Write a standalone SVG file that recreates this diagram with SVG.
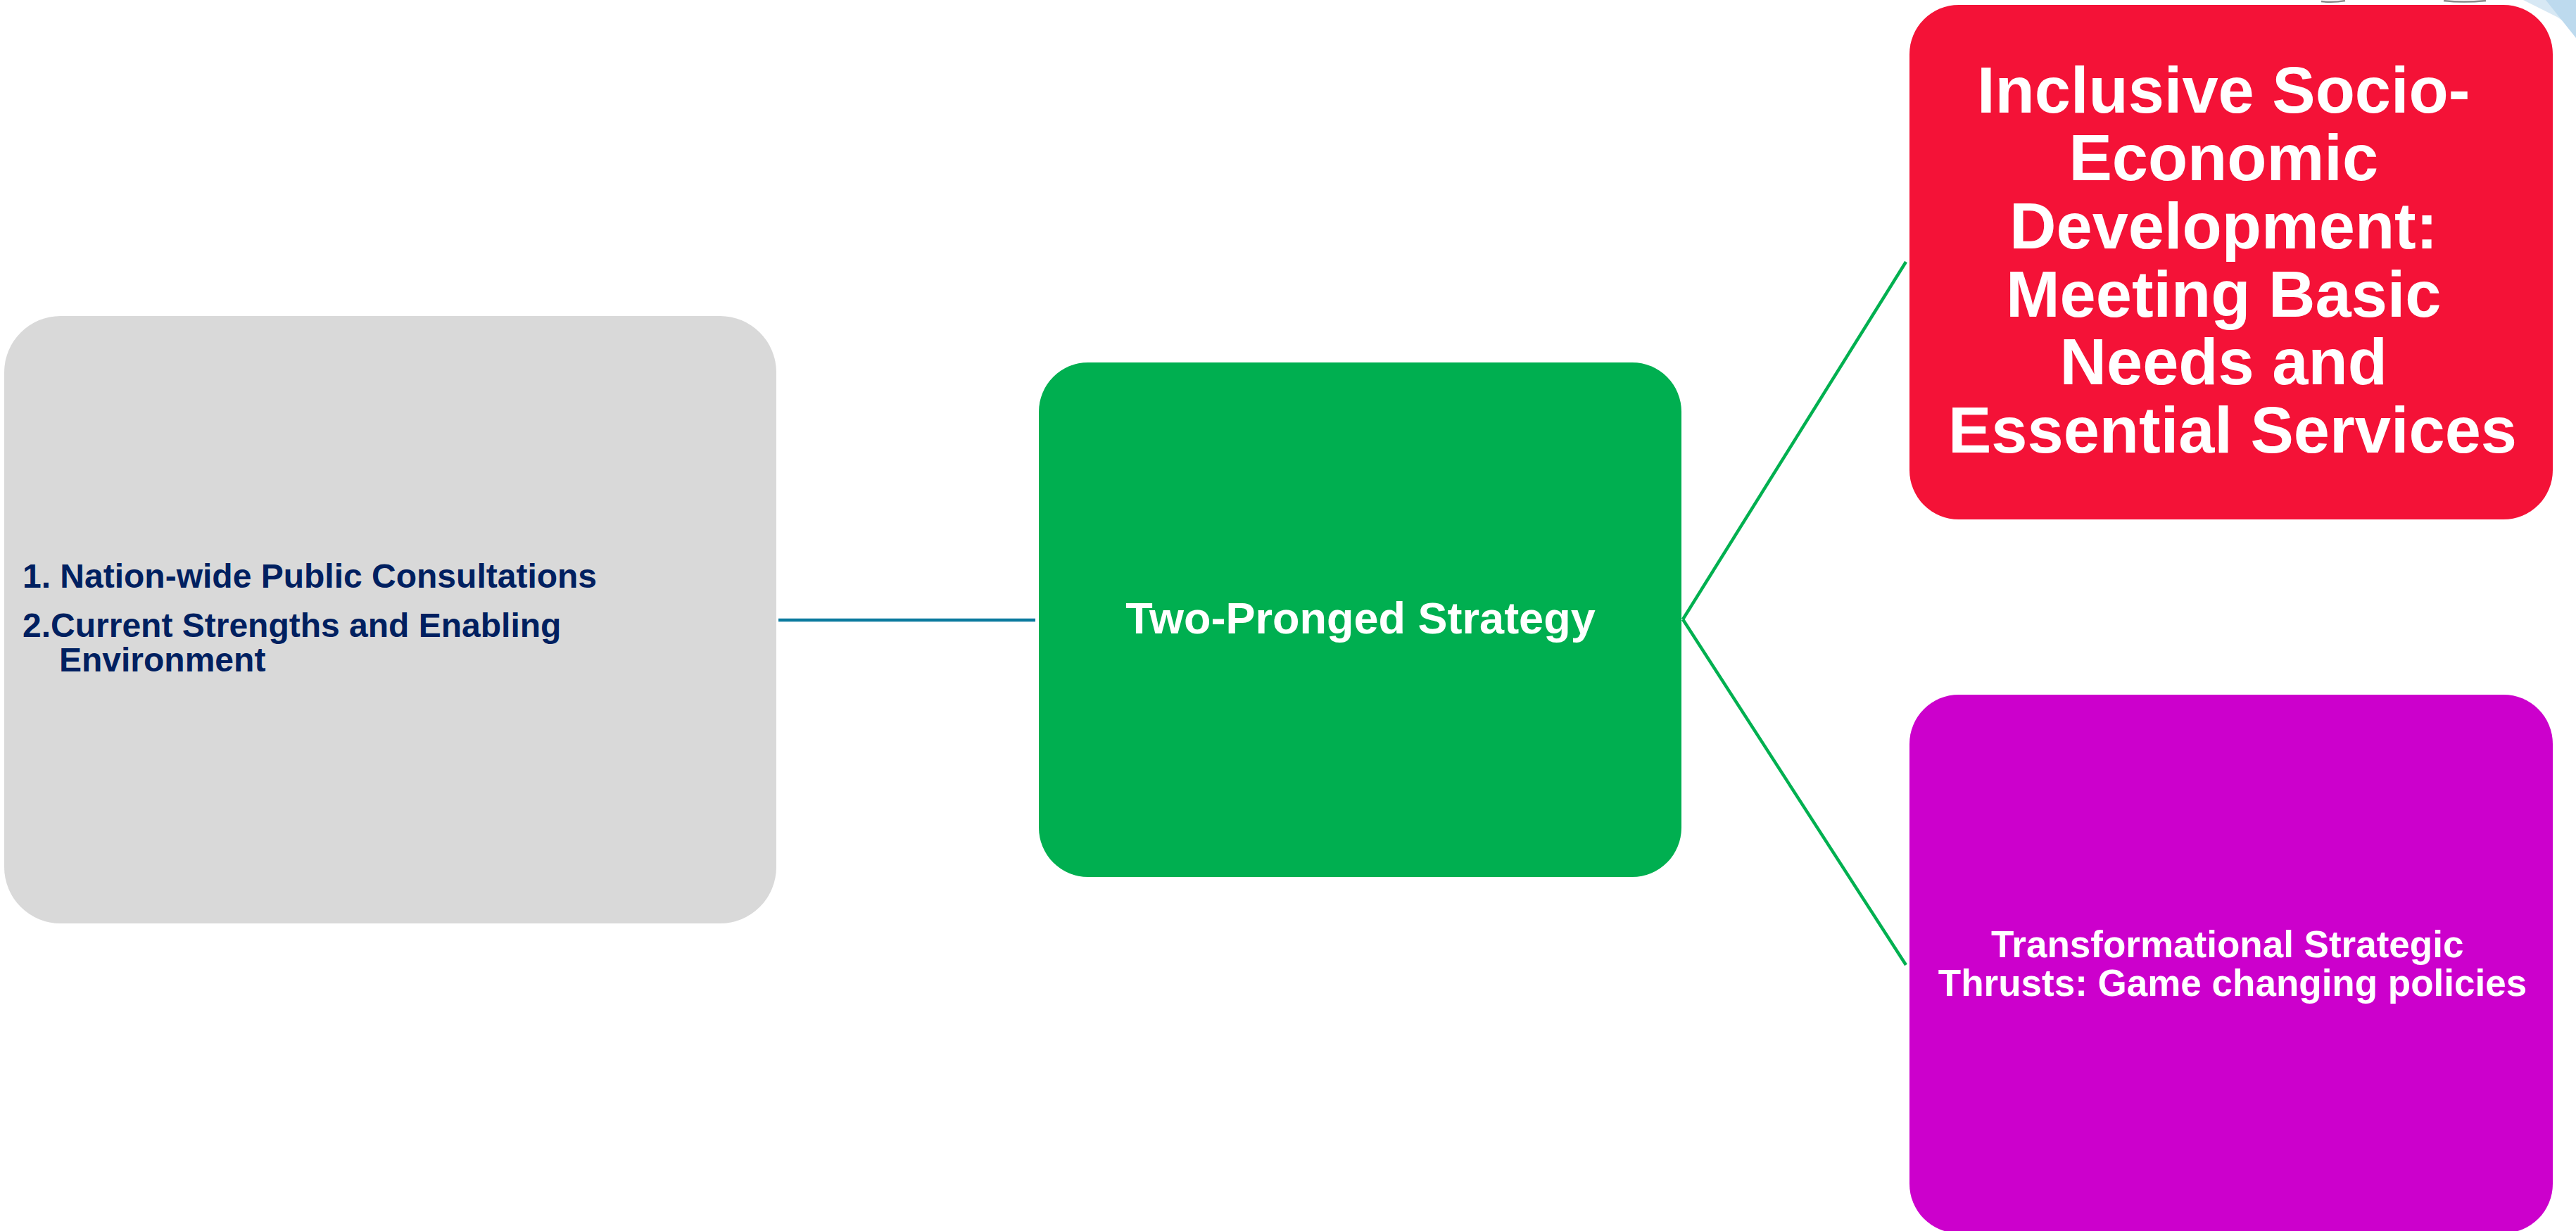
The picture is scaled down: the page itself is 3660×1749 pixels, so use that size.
<svg xmlns="http://www.w3.org/2000/svg" width="3660" height="1749" viewBox="0 0 3660 1749">
  <style>
    .lbl { font-family: "Liberation Sans", Arial, sans-serif; font-weight: bold; }
    .navy { fill: #002060; }
    .white { fill: #FFFFFF; }
    .mid { text-anchor: middle; }
    .link { fill: none; stroke-width: 4.5; stroke-linecap: butt; }
  </style>

  <rect x="0" y="0" width="3660" height="1749" fill="#FFFFFF"/>

  <!-- corner ornament at the top right -->
  <g id="ornament">
    <polygon points="3585,0 3660,0 3660,42 3633,24" fill="#D7E8F4"/>
    <polygon points="3617,0 3660,0 3660,54" fill="#BDDAEE"/>
    <path d="M3298,2 Q3315,4 3332,1" fill="none" stroke="#8A8A8A" stroke-width="2.5"/>
    <path d="M3472,1 Q3500,4 3532,1" fill="none" stroke="#8A8A8A" stroke-width="2.5"/>
  </g>

  <!-- connectors -->
  <g id="connectors">
    <line class="link" x1="1106" y1="881" x2="1471" y2="881" stroke="#0B7A9E"/>
    <line class="link" x1="2391" y1="880" x2="2708" y2="372" stroke="#00B050"/>
    <line class="link" x1="2391" y1="880" x2="2708" y2="1371" stroke="#00B050"/>
  </g>

  <!-- inputs -->
  <g id="node-inputs">
    <rect x="6" y="449" width="1097" height="863" rx="80" ry="80" fill="#D9D9D9"/>
    <text class="lbl navy" font-size="48" x="32" y="835">1. Nation-wide Public Consultations</text>
    <text class="lbl navy" font-size="48" x="32" y="905">2.Current Strengths and Enabling</text>
    <text class="lbl navy" font-size="48" x="84" y="954">Environment</text>
  </g>

  <!-- central strategy -->
  <g id="node-strategy">
    <rect x="1476" y="515" width="913" height="731" rx="70" ry="70" fill="#00AF50"/>
    <text class="lbl white mid" font-size="63" x="1933" y="900">Two-Pronged Strategy</text>
  </g>

  <!-- prong one -->
  <g id="node-development">
    <rect x="2713" y="7" width="914" height="731" rx="70" ry="70" fill="#F41237"/>
    <text class="lbl white mid" font-size="92" x="3170">
      <tspan x="3172" y="160">Inclusive Socio-</tspan>
      <tspan x="3172" y="256">Economic</tspan>
      <tspan x="3172" y="353">Development:</tspan>
      <tspan x="3172" y="450">Meeting Basic</tspan>
      <tspan x="3172" y="546">Needs and</tspan>
      <tspan x="3172" y="643">Essential Services</tspan>
    </text>
  </g>

  <!-- prong two -->
  <g id="node-thrusts">
    <rect x="2713" y="987" width="914" height="765" rx="70" ry="70" fill="#CC00CC"/>
    <text class="lbl white mid" font-size="53" x="3170">
      <tspan x="3172" y="1360">Transformational Strategic</tspan>
      <tspan x="3172" y="1415">Thrusts: Game changing policies</tspan>
    </text>
  </g>
</svg>
